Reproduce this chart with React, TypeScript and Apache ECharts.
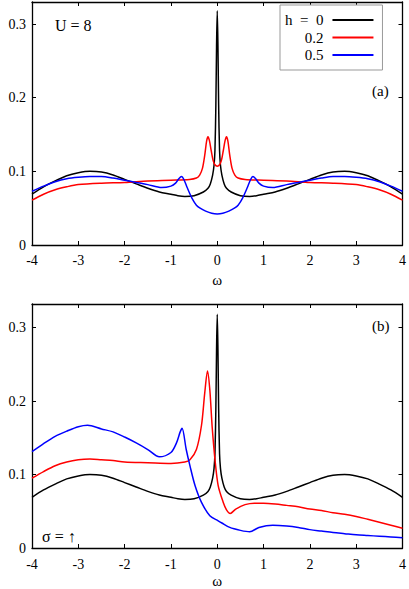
import React, { useEffect, useRef } from 'react';
import * as echarts from 'echarts';

const FONT = 'Liberation Serif, Times New Roman, serif';

const xTicks = [-4, -3, -2, -1, 0, 1, 2, 3, 4];
const yTicks = [0, 0.1, 0.2, 0.3];
const seriesNames = ['h  =  0', '0.2', '0.5'];
const seriesColors = ['#000000', '#ff0000', '#0000ff'];

// h = 0 (same curve in both panels)
const blackX = [-4, -3.75, -3.5, -3.25, -3, -2.75, -2.5, -2.25, -2, -1.75, -1.5, -1.25, -1, -0.85, -0.7, -0.5, -0.3, -0.2, -0.15, -0.1, -0.07, -0.05, -0.03, -0.015, 0, 0.015, 0.03, 0.05, 0.07, 0.1, 0.15, 0.2, 0.3, 0.5, 0.7, 0.85, 1, 1.25, 1.5, 1.75, 2, 2.25, 2.5, 2.75, 3, 3.25, 3.5, 3.75, 4];
const blackY = [0.069, 0.079, 0.087, 0.094, 0.098, 0.1, 0.099, 0.095, 0.089, 0.083, 0.077, 0.072, 0.069, 0.067, 0.066, 0.067, 0.072, 0.077, 0.083, 0.095, 0.108, 0.128, 0.19, 0.27, 0.318, 0.27, 0.19, 0.128, 0.108, 0.095, 0.083, 0.077, 0.072, 0.067, 0.066, 0.067, 0.069, 0.072, 0.077, 0.083, 0.089, 0.095, 0.099, 0.1, 0.098, 0.094, 0.087, 0.079, 0.069];

// panel (a), h = 0.2
const redAX = [-4, -3.75, -3.5, -3.25, -3, -2.5, -2, -1.5, -1, -0.6, -0.45, -0.38, -0.32, -0.27, -0.23, -0.2, -0.17, -0.13, -0.09, -0.05, 0, 0.05, 0.09, 0.13, 0.17, 0.2, 0.23, 0.27, 0.32, 0.38, 0.45, 0.6, 1, 1.5, 2, 2.5, 3, 3.25, 3.5, 3.75, 4];
const redAY = [0.061, 0.069, 0.075, 0.079, 0.082, 0.084, 0.085, 0.087, 0.088, 0.089, 0.091, 0.095, 0.104, 0.122, 0.141, 0.147, 0.142, 0.128, 0.115, 0.109, 0.107, 0.109, 0.115, 0.128, 0.142, 0.147, 0.141, 0.122, 0.104, 0.095, 0.091, 0.089, 0.088, 0.087, 0.085, 0.084, 0.082, 0.079, 0.075, 0.069, 0.061];

// panel (a), h = 0.5
const blueAX = [-4, -3.75, -3.5, -3.25, -3, -2.75, -2.5, -2.25, -2, -1.75, -1.5, -1.2, -1, -0.9, -0.83, -0.77, -0.72, -0.65, -0.55, -0.45, -0.37, -0.25, -0.12, 0, 0.12, 0.25, 0.37, 0.45, 0.55, 0.65, 0.72, 0.77, 0.83, 0.9, 1, 1.2, 1.5, 1.75, 2, 2.25, 2.5, 2.75, 3, 3.25, 3.5, 3.75, 4];
const blueAY = [0.073, 0.080, 0.086, 0.090, 0.092, 0.093, 0.093, 0.091, 0.088, 0.085, 0.082, 0.078, 0.080, 0.084, 0.090, 0.093, 0.089, 0.078, 0.064, 0.054, 0.050, 0.046, 0.043, 0.042, 0.043, 0.046, 0.050, 0.054, 0.064, 0.078, 0.089, 0.093, 0.090, 0.084, 0.080, 0.078, 0.082, 0.085, 0.088, 0.091, 0.093, 0.093, 0.092, 0.090, 0.086, 0.080, 0.073];

// panel (b), h = 0.2
const redBX = [-4, -3.75, -3.5, -3.25, -3, -2.75, -2.5, -2.25, -2, -1.5, -1, -0.7, -0.59, -0.45, -0.34, -0.27, -0.21, -0.16, -0.11, -0.05, 0.02, 0.13, 0.2, 0.28, 0.4, 0.6, 0.8, 1, 1.25, 1.5, 1.75, 2, 2.25, 2.5, 2.75, 3, 3.25, 3.5, 3.75, 4];
const redBY = [0.095, 0.104, 0.112, 0.117, 0.120, 0.121, 0.120, 0.119, 0.117, 0.116, 0.115, 0.117, 0.120, 0.134, 0.167, 0.211, 0.241, 0.215, 0.165, 0.121, 0.085, 0.062, 0.052, 0.047, 0.053, 0.059, 0.061, 0.061, 0.060, 0.058, 0.056, 0.053, 0.051, 0.048, 0.046, 0.043, 0.039, 0.035, 0.031, 0.027];

// panel (b), h = 0.5
const blueBX = [-4, -3.75, -3.5, -3.25, -3, -2.8, -2.5, -2.25, -2, -1.75, -1.5, -1.25, -1, -0.88, -0.8, -0.76, -0.67, -0.59, -0.48, -0.34, -0.16, 0.02, 0.1, 0.27, 0.5, 0.7, 0.9, 1.2, 1.5, 1.75, 2, 2.25, 2.5, 2.75, 3, 3.25, 3.5, 3.75, 4];
const blueBY = [0.131, 0.142, 0.152, 0.159, 0.165, 0.167, 0.162, 0.158, 0.151, 0.143, 0.134, 0.124, 0.130, 0.143, 0.158, 0.163, 0.134, 0.112, 0.085, 0.062, 0.044, 0.037, 0.034, 0.028, 0.024, 0.022, 0.028, 0.031, 0.030, 0.028, 0.025, 0.023, 0.021, 0.0195, 0.018, 0.017, 0.016, 0.015, 0.014];

const zip = (xs: number[], ys: number[]) => xs.map((x, i) => [x, ys[i]]);

export default function App() {
  const ref = useRef<HTMLDivElement>(null);

  useEffect(() => {
    document.body.style.margin = '0';
    if (!ref.current) return;
    const chart = echarts.init(ref.current, undefined, { renderer: 'svg' });

    const axisLine = { show: true, onZero: false, lineStyle: { color: '#000', width: 1.3 } };
    const tick = { show: true, inside: true, length: 4, lineStyle: { color: '#000', width: 1 } };
    const labelStyle = { fontFamily: FONT, fontSize: 14, color: '#000' };

    const mkX = (gridIndex: number, margin: number, nameGap: number) => [
      {
        type: 'value', gridIndex, min: -4, max: 4, interval: 1, position: 'bottom',
        name: 'ω', nameLocation: 'middle', nameGap,
        nameTextStyle: { fontFamily: FONT, fontSize: 15, color: '#000' },
        axisLine, axisTick: tick, splitLine: { show: false },
        axisLabel: { ...labelStyle, margin, formatter: (v: number) => (xTicks.includes(v) ? String(v) : '') },
      },
      {
        type: 'value', gridIndex, min: -4, max: 4, interval: 1, position: 'top',
        axisLine, axisTick: tick, splitLine: { show: false }, axisLabel: { show: false },
      },
    ];
    const mkY = (gridIndex: number, max: number) => [
      {
        type: 'value', gridIndex, min: 0, max, interval: 0.1, position: 'left',
        axisLine, axisTick: tick, splitLine: { show: false },
        axisLabel: {
          ...labelStyle, margin: 6, showMaxLabel: false,
          formatter: (v: number) => {
            const r = Math.round(v * 10) / 10;
            return Math.abs(r - v) < 1e-6 && yTicks.includes(r) ? String(r) : '';
          },
        },
      },
      {
        type: 'value', gridIndex, min: 0, max, interval: 0.1, position: 'right',
        axisLine, axisTick: tick, splitLine: { show: false }, axisLabel: { show: false },
      },
    ];

    const line = (name: string, color: string, data: number[][], xi: number, yi: number) => ({
      type: 'line', name, data, xAxisIndex: xi, yAxisIndex: yi,
      showSymbol: false, symbol: 'none', smooth: 0.3,
      lineStyle: { color, width: 1.5 }, itemStyle: { color }, z: 3,
    });

    chart.setOption({
      animation: false,
      backgroundColor: '#fff',
      grid: [
        { left: 32, top: 2, width: 371, height: 243 },
        { left: 32, top: 304, width: 371, height: 246 },
      ],
      xAxis: [...mkX(0, 8, 27), ...mkX(1, 9, 25)],
      yAxis: [...mkY(0, 0.33), ...mkY(1, 0.332)],
      legend: {
        orient: 'vertical', align: 'right', left: 280, top: 5,
        padding: [7, 9, 7, 5], itemGap: 1.5, itemWidth: 41, itemHeight: 2, icon: 'rect',
        borderColor: '#999', borderWidth: 1, backgroundColor: '#fff',
        data: seriesNames,
        textStyle: { fontFamily: FONT, fontSize: 15, color: '#000', lineHeight: 16, padding: [0, 4, 0, 0] },
      },
      series: [
        line(seriesNames[0], seriesColors[0], zip(blackX, blackY), 0, 0),
        line(seriesNames[1], seriesColors[1], zip(redAX, redAY), 0, 0),
        line(seriesNames[2], seriesColors[2], zip(blueAX, blueAY), 0, 0),
        line(seriesNames[0], seriesColors[0], zip(blackX, blackY), 2, 2),
        line(seriesNames[1], seriesColors[1], zip(redBX, redBY), 2, 2),
        line(seriesNames[2], seriesColors[2], zip(blueBX, blueBY), 2, 2),
      ],
      graphic: [
        { type: 'text', x: 55, y: 25, style: { text: 'U = 8', fontFamily: FONT, fontSize: 16, fill: '#000', verticalAlign: 'middle' } },
        { type: 'text', x: 372, y: 91, style: { text: '(a)', fontFamily: FONT, fontSize: 15, fill: '#000', verticalAlign: 'middle' } },
        { type: 'text', x: 372, y: 326, style: { text: '(b)', fontFamily: FONT, fontSize: 15, fill: '#000', verticalAlign: 'middle' } },
        { type: 'text', x: 42, y: 536, style: { text: 'σ = ↑', fontFamily: FONT, fontSize: 16, fill: '#000', verticalAlign: 'middle' } },
      ],
    });

    return () => chart.dispose();
  }, []);

  return <div ref={ref} style={{ width: 409, height: 589 }} />;
}
